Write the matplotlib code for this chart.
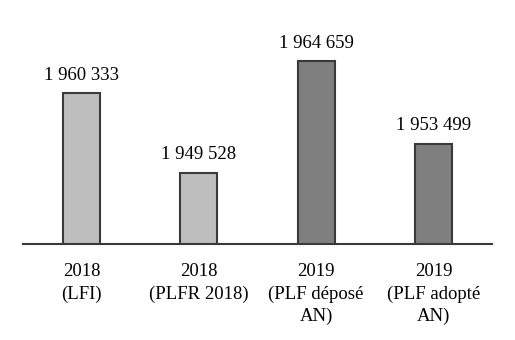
import matplotlib
matplotlib.use("Agg")
import matplotlib.pyplot as plt

categories = ["2018\n(LFI)", "2018\n(PLFR 2018)", "2019\n(PLF déposé\nAN)", "2019\n(PLF adopté\nAN)"]
values = [1960333, 1949528, 1964659, 1953499]
colors = ["#bebebe", "#bebebe", "#7f7f7f", "#7f7f7f"]


def fmt(v):
    return "{:,}".format(v).replace(",", " ")


plt.rcParams["font.family"] = ["Liberation Serif", "DejaVu Serif"]

fig = plt.figure(figsize=(5.15, 3.4), dpi=100)
ax = fig.add_axes([23 / 515, 1 - 243.7 / 340, 469 / 515, 222 / 340])

x = range(len(categories))
bars = ax.bar(x, values, width=0.315, color=colors, edgecolor="#3a3a3a",
              linewidth=1.5, zorder=2)
ax.bar_label(bars, labels=[fmt(v) for v in values], padding=7, fontsize=13.5)

ax.set_xlim(-0.5, len(categories) - 0.5)
ax.set_ylim(1940000, 1970000)
ax.set_xticks(list(x))
ax.set_xticklabels(categories, fontsize=13.5, linespacing=1.4)
ax.tick_params(axis="x", length=0, pad=14)
ax.set_yticks([])
for s in ["left", "right", "top"]:
    ax.spines[s].set_visible(False)
ax.spines["bottom"].set_color("#3a3a3a")
ax.spines["bottom"].set_linewidth(1.5)
ax.spines["bottom"].set_zorder(3)

fig.savefig("out.png", dpi=100)
